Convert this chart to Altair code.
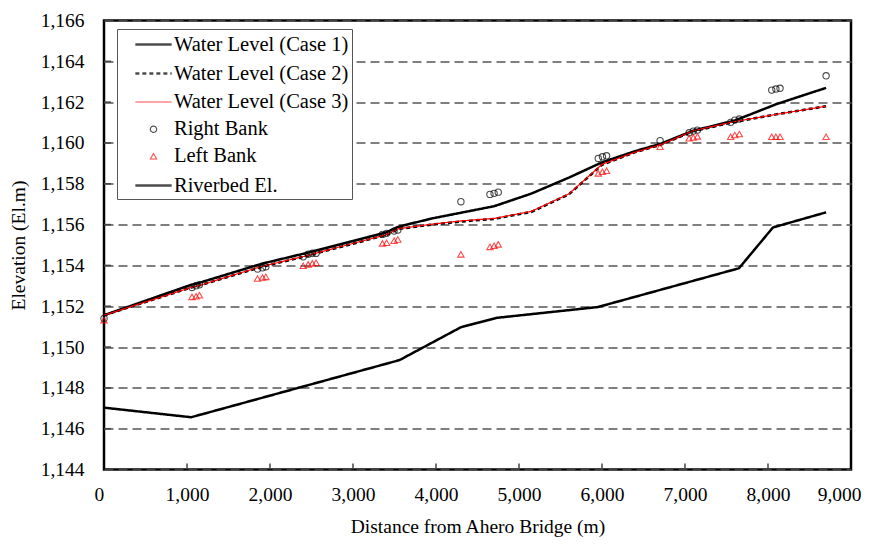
import altair as alt
import pandas as pd

# ---------------- data ----------------
series_names = ["Water Level (Case 1)", "Water Level (Case 2)", "Water Level (Case 3)",
                "Right Bank", "Left Bank", "Riverbed El."]

water_dist = [0, 1050, 1150, 1900, 2450, 2550, 3400, 3550, 3950, 4300, 4700,
              5150, 5600, 6000, 6400, 6700, 7100, 7600, 8100, 8700]
case1 = [1151.56, 1153.05, 1153.15, 1154.08, 1154.62, 1154.72, 1155.62, 1155.90,
         1156.30, 1156.58, 1156.90, 1157.52, 1158.30, 1159.05, 1159.60, 1159.95,
         1160.60, 1161.10, 1161.90, 1162.70]
case2 = [1151.56, 1152.92, 1153.02, 1153.93, 1154.47, 1154.59, 1155.49, 1155.79,
         1156.00, 1156.15, 1156.28, 1156.62, 1157.48, 1158.93, 1159.55, 1159.90,
         1160.58, 1161.03, 1161.40, 1161.80]
case3 = [1151.56, 1152.92, 1153.02, 1153.95, 1154.48, 1154.60, 1155.50, 1155.80,
         1156.02, 1156.18, 1156.30, 1156.65, 1157.50, 1158.95, 1159.55, 1159.90,
         1160.60, 1161.05, 1161.40, 1161.80]

bed_dist = [0, 1050, 3560, 4300, 4730, 5950, 7650, 8060, 8700]
bed_elev = [1147.03, 1146.56, 1149.36, 1150.97, 1151.43, 1151.96, 1153.86, 1155.86, 1156.60]

bank_dist = [0, 1060, 1110, 1150, 1850, 1910, 1950, 2400, 2460, 2510, 2555,
             3355, 3405, 3495, 3540, 4300, 4650, 4700, 4750, 5955, 6005, 6055,
             6700, 7050, 7100, 7150, 7550, 7600, 7655, 8045, 8095, 8145, 8700]
right_bank = [1151.40, 1152.92, 1153.00, 1153.05, 1153.82, 1153.88, 1153.93,
              1154.42, 1154.55, 1154.60, 1154.59, 1155.52, 1155.57, 1155.68,
              1155.73, 1157.12, 1157.48, 1157.53, 1157.59, 1159.24, 1159.32,
              1159.37, 1160.11, 1160.50, 1160.58, 1160.63, 1161.01, 1161.12,
              1161.17, 1162.59, 1162.64, 1162.68, 1163.29]
left_bank = [1151.32, 1152.46, 1152.49, 1152.54, 1153.36, 1153.41, 1153.44,
             1153.98, 1154.05, 1154.10, 1154.13, 1155.08, 1155.11, 1155.21,
             1155.27, 1154.54, 1154.91, 1154.96, 1155.03, 1158.51, 1158.59,
             1158.64, 1159.81, 1160.23, 1160.27, 1160.32, 1160.30, 1160.39,
             1160.44, 1160.30, 1160.30, 1160.30, 1160.30]

x_ticks = [0, 1000, 2000, 3000, 4000, 5000, 6000, 7000, 8000, 9000]
y_ticks = [1144, 1146, 1148, 1150, 1152, 1154, 1156, 1158, 1160, 1162, 1164, 1166]

# ---------------- styling ----------------
FONT = "Liberation Serif"
colors = ["black", "black", "#ff0000", "black", "#ff0000", "black"]
dashes = [[1, 0], [4, 3], [1, 0], [1, 0], [1, 0], [1, 0]]
widths = [2.5, 2.5, 1.2, 1.1, 1.1, 2.5]
LINE_SYM = "M-1.65,0L1.65,0"
shapes = [LINE_SYM, LINE_SYM, LINE_SYM, "circle", "triangle-up", LINE_SYM]
sizes = [484, 484, 484, 40, 40, 484]

line_rows = []
for name, xs, ys in [(series_names[5], bed_dist, bed_elev),
                     (series_names[0], water_dist, case1),
                     (series_names[1], water_dist, case2),
                     (series_names[2], water_dist, case3)]:
    for a, b in zip(xs, ys):
        line_rows.append({"dist": a, "elev": b, "series": name})
lines_df = pd.DataFrame(line_rows)

bank_rows = []
for name, ys in [(series_names[3], right_bank), (series_names[4], left_bank)]:
    for a, b in zip(bank_dist, ys):
        bank_rows.append({"dist": a, "elev": b, "series": name})
banks_df = pd.DataFrame(bank_rows)

xs_scale = alt.Scale(domain=[0, 9000], nice=False)
ys_scale = alt.Scale(domain=[1144, 1166], nice=False, zero=False)

axis_style = dict(labelFont=FONT, labelFontSize=19.5, labelColor="black",
                  titleFont=FONT, titleFontSize=19.5, titleFontWeight="normal",
                  titleColor="black", domain=False, ticks=False)

x_axis = alt.Axis(values=x_ticks, labelExpr="format(datum.value, ',')",
                  title="Distance from Ahero Bridge (m)",
                  grid=False, labelPadding=16, titlePadding=13,
                  labelFlush=True, labelFlushOffset=10, **axis_style)
y_axis = alt.Axis(values=y_ticks, labelExpr="format(datum.value, ',')",
                  title="Elevation (El.m)",
                  grid=True, gridColor="#555555", gridDash=[9, 5], gridWidth=1.5,
                  labelPadding=20, titlePadding=12, labelFlush=False, **axis_style)

X = alt.X("dist:Q", scale=xs_scale, axis=x_axis)
Y = alt.Y("elev:Q", scale=ys_scale, axis=y_axis)

legend = alt.Legend(title=None, orient="none", legendX=13, legendY=8.5,
                    fillColor="white", strokeColor="#555555", padding=3,
                    rowPadding=6, symbolOffset=21, labelOffset=8,
                    labelFont=FONT, labelFontSize=20.5, labelColor="black",
                    symbolFillColor="transparent", labelLimit=400)

color = alt.Color("series:N", scale=alt.Scale(domain=series_names, range=colors), legend=legend)
dash = alt.StrokeDash("series:N", scale=alt.Scale(domain=series_names, range=dashes), legend=legend)
swidth = alt.StrokeWidth("series:N", scale=alt.Scale(type="ordinal", domain=series_names, range=widths), legend=legend)
shape = alt.Shape("series:N", scale=alt.Scale(domain=series_names, range=shapes), legend=legend)
size = alt.Size("series:N", scale=alt.Scale(type="ordinal", domain=series_names, range=sizes), legend=legend)

layers = []
for name in [series_names[5], series_names[0], series_names[1], series_names[2]]:
    layers.append(
        alt.Chart(lines_df).transform_filter(alt.datum.series == name)
        .mark_line(strokeJoin="round")
        .encode(x=X, y=Y, color=color, strokeDash=dash, strokeWidth=swidth)
    )

points = alt.Chart(banks_df).mark_point(filled=False, strokeWidth=1.1).encode(
    x=X, y=Y, color=color, shape=shape, size=size)

# inward tick marks drawn from the tick arrays
ytick_df = pd.DataFrame({"elev": y_ticks[1:-1]})
xtick_df = pd.DataFrame({"dist": x_ticks[1:-1]})
ytick_layer = alt.Chart(ytick_df).mark_rule(color="#444444", strokeWidth=1.5).encode(
    y=Y, x=alt.XDatum(0, scale=xs_scale, axis=x_axis), x2=alt.datum(85))
xtick_layer = alt.Chart(xtick_df).mark_rule(color="#444444", strokeWidth=1.5).encode(
    x=X, y=alt.YDatum(1144, scale=ys_scale, axis=y_axis), y2=alt.datum(1144.3))

chart = alt.layer(*layers, points, ytick_layer, xtick_layer).properties(
    width=747, height=449,
    autosize=alt.AutoSizeParams(type="none"),
    padding={"left": 96, "top": 12.5, "right": 13, "bottom": 67},
    background="white",
).configure_view(stroke="black", strokeWidth=2.5).configure_axis(
    labelFont=FONT, titleFont=FONT, titleFontWeight="normal",
).configure_legend(symbolStrokeColor="black")

chart.save("out.html", embed_options={"renderer": "svg", "actions": False})
